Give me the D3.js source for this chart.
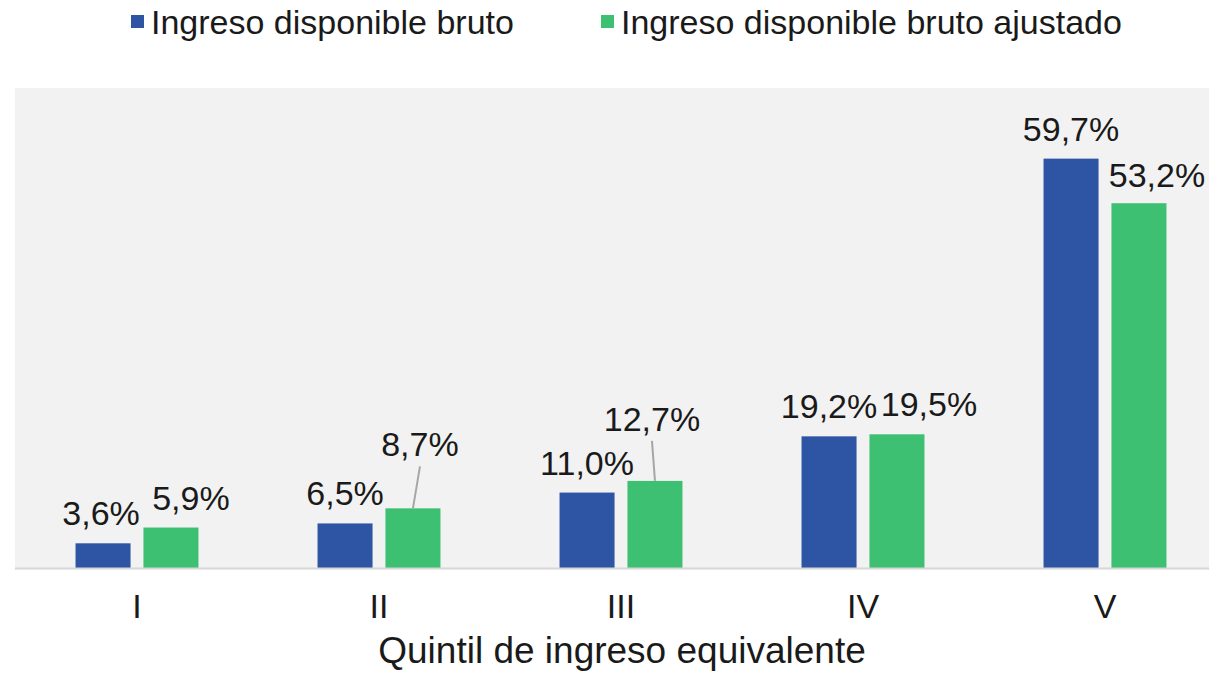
<!DOCTYPE html>
<html>
<head>
<meta charset="utf-8">
<script src="https://cdn.jsdelivr.net/npm/d3@7"></script>
<style>
  html, body { margin: 0; padding: 0; background: #fff; }
  svg { display: block; font-family: "Liberation Sans", Arial, sans-serif; }
</style>
</head>
<body>
<svg></svg>
<script>
'use strict';

// data
var quintiles = ['I', 'II', 'III', 'IV', 'V'];
var seriesNames = ['Ingreso disponible bruto', 'Ingreso disponible bruto ajustado'];
var bruto = [3.6, 6.5, 11.0, 19.2, 59.7];
var ajustado = [5.9, 8.7, 12.7, 19.5, 53.2];
var axisTitle = 'Quintil de ingreso equivalente';

var colors = ['#2e55a3', '#3ec073'];

// labels moved by hand in the original (dx, dy in px, leader line)
var labelShift = {
    'I-0': { dx: -2, dy: 0 },
    'I-1': { dx: 20, dy: 0 },
    'II-1': { dx: 7, dy: -34, leader: true },
    'III-1': { dx: -3, dy: -32, leader: true },
    'IV-1': { dx: 32, dy: 0 },
    'V-1': { dx: 18, dy: 2 }
};

function render() {
    var w = 1209;
    var h = 673;
    var d3 = window.d3;
    var f = d3.format('.1f');

    var svg = d3.select('svg').attr('width', w).attr('height', h);

    var plotTop = 88;
    var plotBottom = 568;

    var x0 = d3.scaleBand().domain(quintiles).range([16, 1226])
        .paddingInner(0.492).paddingOuter(0.246);
    var x1 = d3.scaleBand().domain([0, 1]).range([0, x0.bandwidth()])
        .paddingInner(0.19).paddingOuter(0);
    var y = d3.scaleLinear().domain([0, 70]).range([plotBottom, plotTop]);

    // plot background
    svg.append('rect')
        .attr('x', 15).attr('y', plotTop)
        .attr('width', w - 15).attr('height', plotBottom - plotTop)
        .attr('fill', '#f2f2f2');

    var rows = quintiles.map(function (q, i) {
        return { q: q, values: [bruto[i], ajustado[i]] };
    });

    var g = svg.append('g');

    var groups = g.selectAll('.grp').data(rows).enter().append('g')
        .attr('class', 'grp')
        .attr('transform', function (d) { return 'translate(' + x0(d.q) + ',0)'; });

    groups.selectAll('rect').data(function (d) {
        return d.values.map(function (v, s) { return { q: d.q, s: s, v: v }; });
    }).enter().append('rect')
        .attr('x', function (d) { return x1(d.s); })
        .attr('y', function (d) { return y(d.v); })
        .attr('width', x1.bandwidth())
        .attr('height', function (d) { return y(0) - y(d.v); })
        .attr('fill', function (d) { return colors[d.s]; });

    // baseline
    svg.append('line')
        .attr('x1', 15).attr('x2', w)
        .attr('y1', plotBottom + 0.5).attr('y2', plotBottom + 0.5)
        .attr('stroke', '#d6d6d6').attr('stroke-width', 2);

    // data labels
    rows.forEach(function (r) {
        r.values.forEach(function (v, s) {
            var sh = labelShift[r.q + '-' + s] || { dx: 0, dy: 0 };
            var cx = x0(r.q) + x1(s) + x1.bandwidth() / 2;
            var top = y(v);
            var lx = cx + sh.dx;
            var ly = top - 18 + sh.dy;
            if (sh.leader) {
                svg.append('line')
                    .attr('x1', lx).attr('y1', ly + 10)
                    .attr('x2', cx).attr('y2', top)
                    .attr('stroke', '#a6a6a6').attr('stroke-width', 2);
            }
            svg.append('text')
                .attr('x', lx).attr('y', ly)
                .attr('text-anchor', 'middle')
                .attr('font-size', 34)
                .attr('fill', '#1a1a1a')
                .text(f(v).replace('.', ',') + '%');
        });
    });

    // category labels
    svg.selectAll('.tick-label').data(quintiles).enter().append('text')
        .attr('class', 'tick-label')
        .attr('x', function (d) { return x0(d) + x0.bandwidth() / 2; })
        .attr('y', 618)
        .attr('text-anchor', 'middle')
        .attr('font-size', 34)
        .attr('fill', '#1a1a1a')
        .text(function (d) { return d; });

    svg.append('text')
        .attr('x', 622).attr('y', 663)
        .attr('text-anchor', 'middle')
        .attr('font-size', 37)
        .attr('fill', '#1a1a1a')
        .text(axisTitle);

    // legend
    var legendX = [131, 601];
    seriesNames.forEach(function (name, i) {
        var lg = svg.append('g').attr('transform', 'translate(' + legendX[i] + ',0)');
        lg.append('rect').attr('x', 0).attr('y', 15).attr('width', 13).attr('height', 13)
            .attr('fill', colors[i]);
        lg.append('text').attr('x', 20).attr('y', 34)
            .attr('font-size', 34).attr('fill', '#1a1a1a')
            .text(name);
    });
}

render();
</script>
</body>
</html>
